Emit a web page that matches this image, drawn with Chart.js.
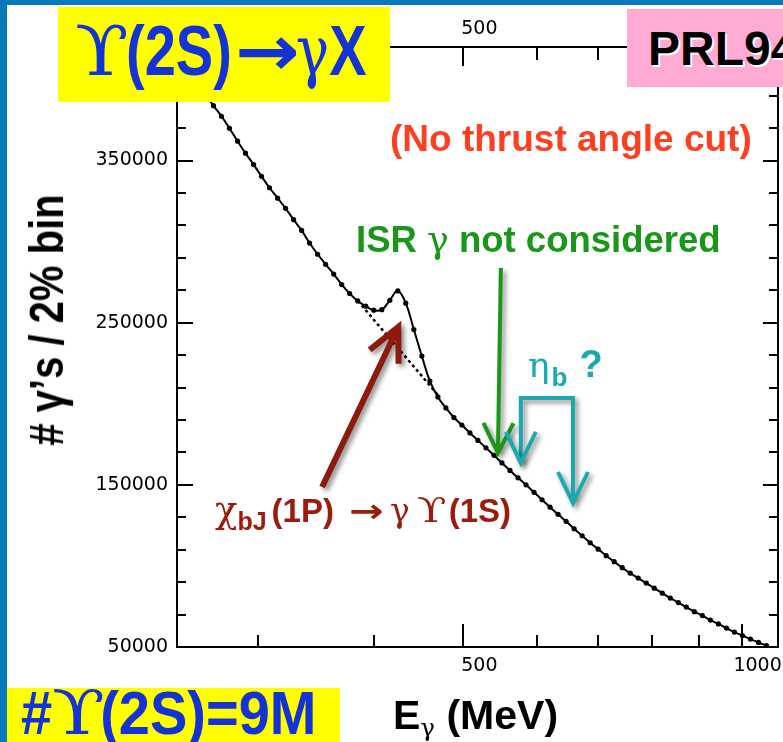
<!DOCTYPE html>
<html>
<head>
<meta charset="utf-8">
<script src="https://cdn.jsdelivr.net/npm/chart.js@4.4.1/dist/chart.umd.min.js"></script>
<style>
html,body{margin:0;padding:0;background:#fff;}
#wrap{position:relative;width:783px;height:742px;overflow:hidden;background:#fff;font-family:"Liberation Sans",Arial,Helvetica,sans-serif;font-weight:bold;}
#c{position:absolute;left:0;top:0;}
.abs{position:absolute;white-space:nowrap;line-height:1;}
.box{position:absolute;}
.sym{font-family:"DejaVu Serif",serif;font-weight:normal;}
.arr{font-family:"DejaVu Sans",sans-serif;font-weight:bold;}
.ib{display:inline-block;transform-origin:0 50%;}
sub{font-size:0.6em;vertical-align:baseline;position:relative;top:0.3em;}
</style>
</head>
<body>
<div id="wrap">
  <canvas id="c" width="783" height="742"></canvas>
  <div class="box" style="left:0;top:0;width:7px;height:742px;background:#0a78bd;"></div>
  <div class="box" style="left:0;top:0;width:783px;height:5px;background:#0a78bd;"></div>

  <div class="box" style="left:58px;top:7px;width:332px;height:95px;background:#ffff00;"></div>
  <div class="abs" style="left:75px;top:16px;font-size:56px;color:#1433d6;transform:scaleY(1.25);transform-origin:0 0;"><span class="sym ib" style="width:51px;transform:scaleX(1.4);">ϒ</span>(2S)<span class="arr ib" style="margin-left:3px;width:61px;transform:scaleX(1.38);">→</span><span class="sym">γ</span>X</div>

  <div class="box" style="left:627px;top:9px;width:170px;height:78px;background:#ffabd5;"></div>
  <div class="abs" style="left:648px;top:25px;font-size:48px;color:#000;text-shadow:2px 2px 0 #fff;">PRL94</div>

  <div class="box" style="left:7px;top:688px;width:333px;height:60px;background:#ffff00;"></div>
  <div class="abs" style="left:21px;top:682px;font-size:56px;color:#1433d6;transform:scaleY(1.1);transform-origin:0 0;">#<span class="sym ib" style="width:48px;transform:scaleX(1.38);">ϒ</span>(2S)=9M</div>

  <div class="abs" style="left:390px;top:120px;font-size:37px;color:#ff4020;">(No thrust angle cut)</div>
  <div class="abs" style="left:356px;top:222px;font-size:36.5px;color:#1a961a;">ISR <span class="sym">γ</span> not considered</div>
  <div class="abs" style="left:528px;top:345px;font-size:36px;color:#1ba8ae;"><span class="sym">η</span><span style="font-size:26px;position:relative;top:9px;margin-left:2px;">b</span><span style="margin-left:12px;font-size:38px;">?</span></div>
  <div class="abs" style="left:215px;top:491px;font-size:33px;color:#9c1b0d;"><span class="sym" style="font-size:37px;">χ</span><span style="font-size:25px;position:relative;top:8px;">bJ</span><span style="margin-left:5px;">(1P)</span><span class="arr ib" style="margin-left:15px;width:40px;transform:scaleX(1.25);">→</span><span class="sym" style="margin-left:1px;">γ</span><span class="sym ib" style="margin-left:7px;width:32px;transform:scaleX(1.3);">ϒ</span>(1S)</div>
  <div class="abs" style="left:393px;top:695px;font-size:41px;color:#000;">E<sub class="sym">γ</sub> (MeV)</div>
  <div class="abs" style="left:47px;top:320px;font-size:40px;color:#000;transform:translate(-50%,-50%) rotate(-90deg) scaleY(1.18);"># γ’s / 2% bin</div>
</div>
<script>
// ---- data ----
const energies = [252.7,257.8,263.0,268.3,273.7,279.2,284.9,290.6,296.5,302.4,308.5,314.8,321.1,327.6,334.2,340.9,347.8,354.8,362.0,369.3,376.7,384.3,392.1,400.0,408.1,416.3,424.7,433.2,442.0,450.9,460.0,469.3,478.7,488.4,498.2,508.3,518.5,529.0,539.7,550.5,561.6,573.0,584.5,596.3,608.3,620.6,633.1,645.9,658.9,672.2,685.8,699.6,713.7,728.1,742.8,757.8,773.0,788.6,804.5,820.8,837.3,854.2,871.4,889.0,906.9,925.2,943.9,962.9,982.3,1002.2,1022.4,1043.0,1064.0];
const counts = [406900,398900,391200,383800,377300,369900,361900,354500,347500,340300,333200,326800,320500,313500,306900,299100,292200,286000,280000,273500,268000,263400,260200,257700,258000,263800,269600,262000,245800,229400,214000,204200,197400,191500,186900,182000,177400,172800,168200,163500,158900,154300,150000,145400,140800,136200,131800,127500,122900,118600,114300,110300,106300,102600,98900,95500,92500,89400,86300,83200,80200,77400,74600,71800,69400,66600,64200,61700,59200,57100,54900,52800,50900];
const bkgEnergies = [384.3,392.1,400.0,408.1,416.3,424.7,433.2,442.0,450.9,460.0,469.3];
const bkgCounts = [263400,257700,251800,246000,240200,234300,228800,222900,217100,211200,205400];
const xTickValues = [300,400,500,600,700,800,900,1000];
const xLabelValues = [500,1000];
const yTickValues = [50000,70000,90000,110000,130000,150000,170000,190000,210000,230000,250000,270000,290000,310000,330000,350000,370000,390000,410000];
const yLabelValues = [50000,150000,250000,350000];
// annotation anchors in data units (MeV, counts)
const isrArrow = {e0:549, n0:283700, e1:545, n1:169600};
const etaPath = [[577,163500],[577,203600],[657,203600],[657,138800]];
const chiArrow = {e0:351.7, n0:148700, e1:425.2, n1:247300};

const xMin = 245, xMax = 1095, yMin = 50000, yMax = 420000;

function head(ctx, tx, ty, fx, fy, len, half){
  const dx = tx-fx, dy = ty-fy, L = Math.hypot(dx,dy), ux = dx/L, uy = dy/L;
  const bx = tx-ux*len, by = ty-uy*len, nx = -uy, ny = ux;
  ctx.moveTo(bx+nx*half, by+ny*half); ctx.lineTo(tx,ty); ctx.lineTo(bx-nx*half, by-ny*half);
}

const framePlugin = {
  id:'frame',
  afterDraw(chart){
    const ctx = chart.ctx, a = chart.chartArea, sx = chart.scales.x, sy = chart.scales.y;
    ctx.save();
    ctx.strokeStyle = '#000'; ctx.lineWidth = 2;
    ctx.strokeRect(a.left, a.top, a.right-a.left, a.bottom-a.top);
    ctx.beginPath();
    xTickValues.forEach(v=>{
      const p = Math.round(sx.getPixelForValue(v)), maj = xLabelValues.includes(v);
      ctx.moveTo(p, a.bottom); ctx.lineTo(p, a.bottom-(maj?23:12));
      ctx.moveTo(p, a.top); ctx.lineTo(p, a.top+(maj?19:13));
    });
    yTickValues.forEach(v=>{
      const p = Math.round(sy.getPixelForValue(v)), maj = yLabelValues.includes(v);
      ctx.moveTo(a.left, p); ctx.lineTo(a.left+(maj?16:9), p);
      ctx.moveTo(a.right, p); ctx.lineTo(a.right-(maj?15:9), p);
    });
    ctx.stroke();
    // arrows
    ctx.shadowColor = 'rgba(0,0,0,0.45)'; ctx.shadowBlur = 5; ctx.shadowOffsetX = 3; ctx.shadowOffsetY = 3;
    ctx.lineJoin = 'miter'; ctx.lineCap = 'butt';
    let x0 = sx.getPixelForValue(isrArrow.e0), y0 = sy.getPixelForValue(isrArrow.n0);
    let x1 = sx.getPixelForValue(isrArrow.e1), y1 = sy.getPixelForValue(isrArrow.n1);
    ctx.strokeStyle = '#1a961a'; ctx.lineWidth = 4;
    ctx.beginPath(); ctx.moveTo(x0,y0); ctx.lineTo(x1,y1); head(ctx,x1,y1,x0,y0,30,15); ctx.stroke();
    const pts = etaPath.map(p=>[sx.getPixelForValue(p[0]), sy.getPixelForValue(p[1])]);
    ctx.strokeStyle = '#1ba8ae'; ctx.lineWidth = 4;
    ctx.beginPath(); ctx.moveTo(pts[0][0],pts[0][1]);
    for(let i=1;i<pts.length;i++) ctx.lineTo(pts[i][0],pts[i][1]);
    head(ctx, pts[3][0], pts[3][1], pts[2][0], pts[2][1], 31, 15);
    ctx.stroke();
    ctx.beginPath(); head(ctx, pts[0][0], pts[0][1], pts[1][0], pts[1][1], 31, 15); ctx.stroke();
    x0 = sx.getPixelForValue(chiArrow.e0); y0 = sy.getPixelForValue(chiArrow.n0);
    x1 = sx.getPixelForValue(chiArrow.e1); y1 = sy.getPixelForValue(chiArrow.n1);
    ctx.strokeStyle = '#8e1a0c'; ctx.lineWidth = 6;
    ctx.beginPath(); ctx.moveTo(x0,y0); ctx.lineTo(x1,y1); head(ctx,x1,y1,x0,y0,33,16); ctx.stroke();
    ctx.restore();
  }
};

const tickFont = {family:'DejaVu Sans', size:19};
new Chart(document.getElementById('c'), {
  type:'line',
  data:{
    datasets:[
      {data: energies.map((e,i)=>({x:e, y:counts[i]})), borderColor:'#000', borderWidth:2, pointRadius:2.6, pointBackgroundColor:'#000', pointBorderWidth:0, tension:0.4, fill:false, order:1},
      {data: bkgEnergies.map((e,i)=>({x:e, y:bkgCounts[i]})), borderColor:'#000', borderWidth:2.5, borderDash:[3,3], pointRadius:0, tension:0, fill:false, order:2}
    ]
  },
  options:{
    responsive:false, animation:false, devicePixelRatio:1,
    layout:{padding:0},
    plugins:{legend:{display:false}, tooltip:{enabled:false}},
    scales:{
      x:{type:'logarithmic', position:'bottom', min:xMin, max:xMax,
         afterBuildTicks:s=>{s.ticks = xTickValues.map(v=>({value:v}));},
         afterFit:s=>{s.height = 95;},
         grid:{display:false, drawTicks:false}, border:{display:false},
         ticks:{autoSkip:false, maxRotation:0, padding:8, labelOffset:16, color:'#000', font:tickFont,
                callback:v=> xLabelValues.includes(v) ? String(v) : ''}},
      x2:{type:'logarithmic', position:'top', min:xMin, max:xMax,
         afterBuildTicks:s=>{s.ticks = xTickValues.map(v=>({value:v}));},
         afterFit:s=>{s.height = 47;},
         grid:{display:false, drawTicks:false}, border:{display:false},
         ticks:{autoSkip:false, maxRotation:0, padding:7, labelOffset:16, color:'#000', font:tickFont,
                callback:v=> v===500 ? String(v) : ''}},
      y:{type:'linear', position:'left', min:yMin, max:yMax,
         afterBuildTicks:s=>{s.ticks = yTickValues.map(v=>({value:v}));},
         afterFit:s=>{s.width = 177;},
         grid:{display:false, drawTicks:false}, border:{display:false},
         ticks:{autoSkip:false, padding:9, color:'#000', font:tickFont,
                callback:v=> yLabelValues.includes(v) ? String(v) : ''}},
      y2:{type:'linear', position:'right', min:yMin, max:yMax,
         afterFit:s=>{s.width = 5;},
         grid:{display:false, drawTicks:false}, border:{display:false},
         ticks:{display:false}}
    }
  },
  plugins:[framePlugin]
});
</script>
</body>
</html>
